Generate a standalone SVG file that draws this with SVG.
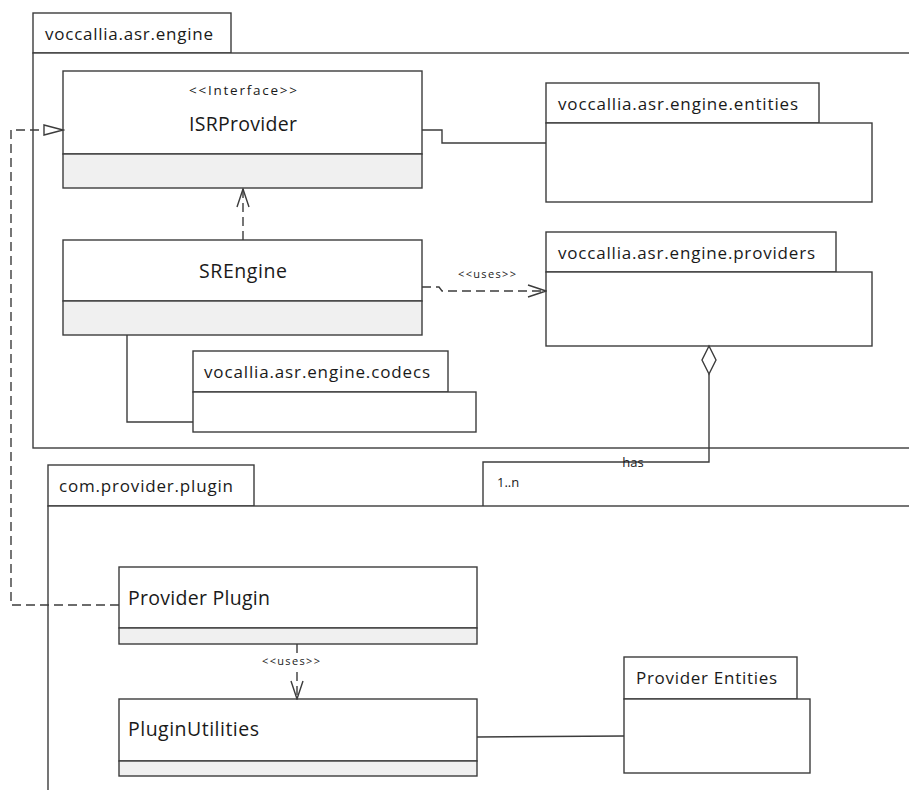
<svg xmlns="http://www.w3.org/2000/svg" width="909" height="790" viewBox="0 0 909 790">
  <style>
    .box { fill: #ffffff; stroke: #3c3c3c; stroke-width: 1.4; }
    .comp { fill: #f0f0f0; stroke: #3c3c3c; stroke-width: 1.4; }
    .line { fill: none; stroke: #3c3c3c; stroke-width: 1.4; }
    .dash { fill: none; stroke: #3c3c3c; stroke-width: 1.4; stroke-dasharray: 9 5; }
    .pkg { font-family: "Open Sans", "Liberation Sans", sans-serif; font-size: 17px; fill: #1a1a1a; }
    .cls { font-family: "Open Sans", "Liberation Sans", sans-serif; font-size: 19.5px; fill: #1a1a1a; }
    .ster { font-family: "Open Sans", "Liberation Sans", sans-serif; font-size: 13.5px; fill: #1a1a1a; }
    .small { font-family: "Open Sans", "Liberation Sans", sans-serif; font-size: 11px; fill: #1a1a1a; }
    .lbl { font-family: "Open Sans", "Liberation Sans", sans-serif; font-size: 13px; fill: #1a1a1a; }
  </style>
  <defs>
    <marker id="openArrow" viewBox="0 0 20 14" refX="19" refY="7" markerWidth="20" markerHeight="14" markerUnits="userSpaceOnUse" orient="auto">
      <path d="M1,1 L19,7 L1,13" fill="none" stroke="#3c3c3c" stroke-width="1.4"/>
    </marker>
    <marker id="hollowTriangle" viewBox="0 0 22 14" refX="20" refY="7" markerWidth="22" markerHeight="14" markerUnits="userSpaceOnUse" orient="auto">
      <path d="M1,2 L20,7 L1,12 Z" fill="#ffffff" stroke="#3c3c3c" stroke-width="1.4"/>
    </marker>
  </defs>

  <rect width="909" height="790" fill="#ffffff"/>

  <!-- package voccallia.asr.engine -->
  <g id="pkg-engine">
    <rect class="box" x="33" y="13" width="198" height="40"/>
    <rect class="box" x="33" y="53" width="900" height="395"/>
    <text class="pkg" x="45" y="40" textLength="168">voccallia.asr.engine</text>
  </g>

  <!-- package com.provider.plugin -->
  <g id="pkg-plugin">
    <rect class="box" x="48" y="465" width="206" height="41"/>
    <rect class="box" x="48" y="506" width="900" height="300"/>
    <text class="pkg" x="59" y="492" textLength="174">com.provider.plugin</text>
  </g>

  <!-- ISRProvider interface -->
  <g id="isrprovider">
    <rect class="box" x="63" y="71" width="359" height="83"/>
    <rect class="comp" x="63" y="154" width="359" height="34"/>
    <text class="ster" x="243" y="95" text-anchor="middle" textLength="108">&lt;&lt;Interface&gt;&gt;</text>
    <text class="cls" x="243" y="131" text-anchor="middle" textLength="108">ISRProvider</text>
  </g>

  <!-- SREngine class -->
  <g id="srengine">
    <rect class="box" x="63" y="240" width="359" height="61"/>
    <rect class="comp" x="63" y="301" width="359" height="34"/>
    <text class="cls" x="243" y="278" text-anchor="middle" textLength="88">SREngine</text>
  </g>

  <!-- package voccallia.asr.engine.entities -->
  <g id="pkg-entities">
    <rect class="box" x="546" y="83" width="273" height="40"/>
    <rect class="box" x="546" y="123" width="326" height="79"/>
    <text class="pkg" x="558" y="110" textLength="240">voccallia.asr.engine.entities</text>
  </g>

  <!-- package voccallia.asr.engine.providers -->
  <g id="pkg-providers">
    <rect class="box" x="546" y="232" width="290" height="40"/>
    <rect class="box" x="546" y="272" width="326" height="74"/>
    <text class="pkg" x="558" y="259" textLength="257">voccallia.asr.engine.providers</text>
  </g>

  <!-- package vocallia.asr.engine.codecs -->
  <g id="pkg-codecs">
    <rect class="box" x="193" y="351" width="255" height="41"/>
    <rect class="box" x="193" y="392" width="283" height="40"/>
    <text class="pkg" x="204" y="378" textLength="226">vocallia.asr.engine.codecs</text>
  </g>

  <!-- Provider Plugin class -->
  <g id="provider-plugin">
    <rect class="box" x="119" y="567" width="358" height="61"/>
    <rect class="comp" x="119" y="628" width="358" height="16"/>
    <text class="cls" x="128" y="605" textLength="142">Provider Plugin</text>
  </g>

  <!-- PluginUtilities class -->
  <g id="plugin-utilities">
    <rect class="box" x="119" y="699" width="358" height="62"/>
    <rect class="comp" x="119" y="761" width="358" height="15"/>
    <text class="cls" x="128" y="736" textLength="131">PluginUtilities</text>
  </g>

  <!-- package Provider Entities -->
  <g id="pkg-provider-entities">
    <rect class="box" x="624" y="657" width="173" height="42"/>
    <rect class="box" x="624" y="699" width="186" height="74"/>
    <text class="pkg" x="636" y="684" textLength="141">Provider Entities</text>
  </g>

  <!-- connectors -->
  <g id="connectors">
    <!-- ISRProvider to entities -->
    <polyline class="line" points="422,130 442,130 442,143 546,143"/>
    <!-- SREngine depends on ISRProvider -->
    <line class="dash" x1="243" y1="240" x2="243" y2="189" marker-end="url(#openArrow)"/>
    <!-- SREngine uses providers -->
    <polyline class="dash" points="422,287 439,287 442,291 546,291" marker-end="url(#openArrow)"/>
    <text class="small" x="487" y="278" text-anchor="middle" textLength="58">&lt;&lt;uses&gt;&gt;</text>
    <!-- SREngine to codecs -->
    <polyline class="line" points="127,335 127,422 193,422"/>
    <!-- providers aggregation -->
    <polyline class="line" points="709,374 709,462 483,462 483,506"/>
    <path d="M709,346 L716,360 L709,374 L702,360 Z" fill="#ffffff" stroke="#3c3c3c" stroke-width="1.4"/>
    <text class="lbl" x="633" y="467" text-anchor="middle">has</text>
    <text class="lbl" x="497" y="487">1..n</text>
    <!-- Provider Plugin realizes ISRProvider -->
    <polyline class="dash" points="119,605 11,605 11,130 63,130" marker-end="url(#hollowTriangle)"/>
    <!-- Provider Plugin uses PluginUtilities -->
    <line class="dash" x1="297" y1="644" x2="297" y2="699" marker-end="url(#openArrow)"/>
    <rect x="262" y="656" width="60" height="11" fill="#ffffff"/>
    <text class="small" x="291" y="665" text-anchor="middle" textLength="58">&lt;&lt;uses&gt;&gt;</text>
    <!-- PluginUtilities to Provider Entities -->
    <line class="line" x1="477" y1="737" x2="624" y2="736"/>
  </g>
</svg>
